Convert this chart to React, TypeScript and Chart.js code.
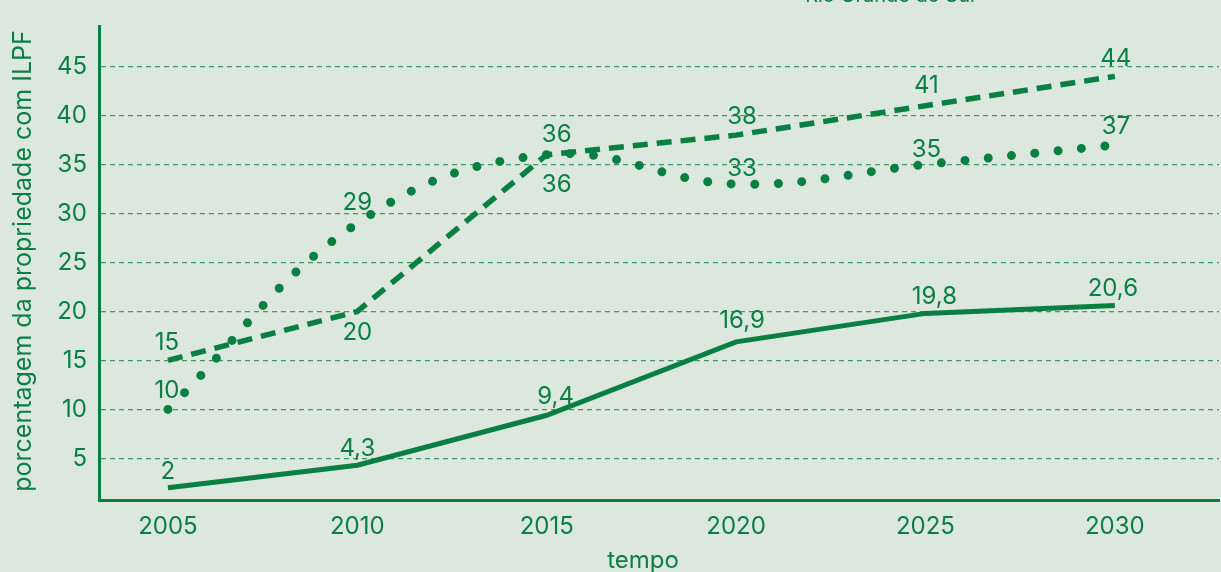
import React, { useEffect, useRef } from "react";
import { Chart, registerables } from "chart.js";

Chart.register(...registerables);

const years = [2005, 2010, 2015, 2020, 2025, 2030];
const solidValues = [2, 4.3, 9.4, 16.9, 19.8, 20.6];
const dashedValues = [15, 20, 36, 38, 41, 44];
const dottedValues = [10, 29, 36, 33, 35, 37];
const solidLabels = ["2", "4,3", "9,4", "16,9", "19,8", "20,6"];
const dashedLabels = ["15", "20", "36", "38", "41", "44"];
const dottedLabels = ["10", "29", "36", "33", "35", "37"];
const yTicks = [5, 10, 15, 20, 25, 30, 35, 40, 45];
const xTicks = [2005, 2010, 2015, 2020, 2025, 2030];
const xTitle = "tempo";
const yTitle = "porcentagem da propriedade com ILPF";
const topText = "Rio Grande do Sul";

// label placement offsets (style only)
const solidOffsets = [[0, -16], [0, -16], [9, -18], [6, -21], [9, -17], [-2, -17]];
const dashedOffsets = [[-1, -18], [0, 21], [10, -20], [6, -18], [1, -20], [1, -18]];
const dottedOffsets = [[-1, -19], [0, -21], [10, 30], [6, -15], [1, -15], [1, -18]];

const GREEN = "#0a7f42";
const GRID = "#3d9a64";
const BG = "#dce7dd";
const FONT = "Inter, 'Noto Sans', sans-serif";

export default function App() {
  const ref = useRef<HTMLCanvasElement | null>(null);

  useEffect(() => {
    document.body.style.margin = "0";
    document.body.style.background = BG;
    const canvas = ref.current!;
    const toPts = (vals: number[]) => years.map((y, i) => ({ x: y, y: vals[i] }));

    const labelPlugin = {
      id: "labels",
      afterDatasetsDraw(chart: any) {
        const ctx = chart.ctx;
        ctx.save();
        ctx.fillStyle = GREEN;
        ctx.font = `24px ${FONT}`;
        ctx.textAlign = "center";
        ctx.textBaseline = "middle";
        const sets = [
          [solidLabels, solidOffsets],
          [dashedLabels, dashedOffsets],
          [dottedLabels, dottedOffsets],
        ] as any[];
        sets.forEach(([labels, offs], di) => {
          const meta = chart.getDatasetMeta(di);
          meta.data.forEach((pt: any, i: number) => {
            ctx.fillText(labels[i], pt.x + offs[i][0], pt.y + offs[i][1]);
          });
        });
        // axis titles
        ctx.textBaseline = "alphabetic";
        ctx.fillText(xTitle, 643, 568);
        ctx.save();
        ctx.font = `25px ${FONT}`;
        ctx.translate(31, 261);
        ctx.rotate(-Math.PI / 2);
        ctx.fillText(yTitle, 0, 0);
        ctx.restore();
        ctx.font = `20px ${FONT}`;
        ctx.fillText(topText, 890, 2);
        ctx.restore();
      },
    };

    const chart = new Chart(canvas, {
      type: "line",
      data: {
        datasets: [
          {
            label: "a",
            data: toPts(solidValues),
            borderColor: GREEN,
            borderWidth: 5,
            pointRadius: 0,
            tension: 0,
            fill: false,
          },
          {
            label: "b",
            data: toPts(dashedValues),
            borderColor: GREEN,
            borderWidth: 5.5,
            borderDash: [15, 9],
            pointRadius: 0,
            tension: 0,
            fill: false,
          },
          {
            label: "c",
            data: toPts(dottedValues),
            borderColor: GREEN,
            borderWidth: 9,
            borderDash: [0, 23.5],
            borderCapStyle: "round",
            pointRadius: 0,
            tension: 0.4,
            fill: false,
          },
        ],
      },
      options: {
        responsive: false,
        animation: false,
        layout: { padding: { top: 22, right: 2, left: 0, bottom: 0 } },
        plugins: { legend: { display: false }, tooltip: { enabled: false } },
        scales: {
          x: {
            type: "linear",
            min: 2003.18,
            max: 2032.75,
            afterFit: (s: any) => {
              s.height = 72;
            },
            afterBuildTicks: (s: any) => {
              s.ticks = xTicks.map((v) => ({ value: v }));
            },
            grid: { display: false, drawTicks: false },
            border: { display: true, color: GREEN, width: 3 },
            ticks: {
              color: GREEN,
              font: { family: FONT, size: 24 },
              padding: 12,
              callback: (v: any) => String(v),
            },
          },
          y: {
            type: "linear",
            min: 0.75,
            max: 49.1,
            afterFit: (s: any) => {
              s.width = 99;
            },
            afterBuildTicks: (s: any) => {
              s.ticks = yTicks.map((v) => ({ value: v }));
            },
            grid: {
              color: GRID,
              lineWidth: 1.3,
              drawTicks: false,
            },
            border: { display: true, color: GREEN, width: 3, dash: [5, 4] } as any,
            ticks: {
              color: GREEN,
              font: { family: FONT, size: 24 },
              padding: 12,
            },
          },
        },
      },
      plugins: [labelPlugin],
    } as any);

    return () => chart.destroy();
  }, []);

  return (
    <div style={{ position: "fixed", left: 0, top: 0, width: 1221, height: 572, background: BG }}>
      <canvas ref={ref} width={1221} height={572} />
    </div>
  );
}
